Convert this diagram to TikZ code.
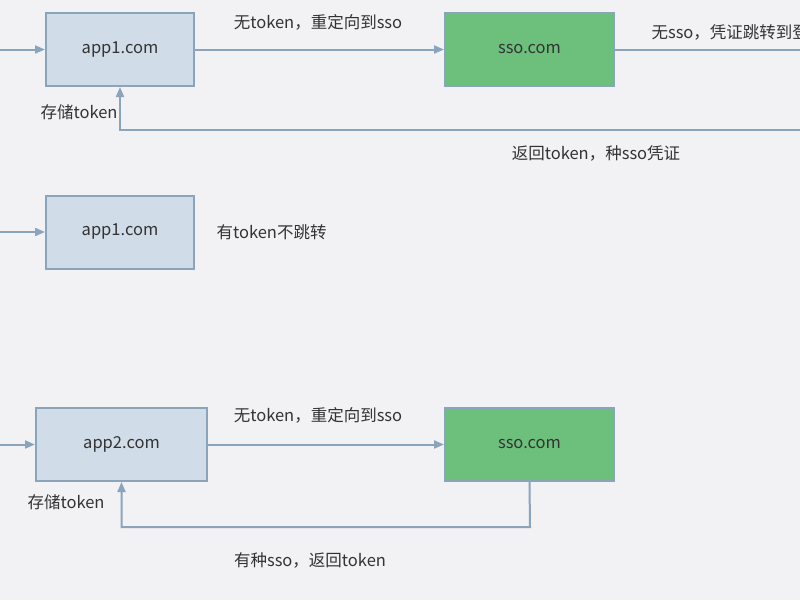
\documentclass[tikz,border=0pt]{standalone}
\usepackage{fontspec}
\setmainfont{Noto Sans CJK SC}
\usetikzlibrary{positioning}
\usetikzlibrary{arrows.meta}
\definecolor{bg}{HTML}{F2F2F4}
\definecolor{appfill}{HTML}{D0DCE8}
\definecolor{ssofill}{HTML}{6DBF7C}
\definecolor{edge}{HTML}{8AA4BC}
\definecolor{txt}{HTML}{333333}
\begin{document}
\begin{tikzpicture}[x=1pt,y=-1pt,
  app/.style={draw=edge, line width=2pt, fill=appfill, minimum height=73pt, text=txt, font=\fontsize{16.5}{18}\selectfont},
  sso/.style={app, fill=ssofill},
  flow/.style={draw=edge, line width=2pt, -{Triangle[length=10pt,width=8pt]}},
  lbl/.style={text=txt, font=\fontsize{16.5}{18}\selectfont}]
 \fill[bg] (0,0) rectangle (800,600);
 \clip (0,0) rectangle (800,600);
 % first request
 \node[app, minimum width=148pt] (appA) at (120,49.5) {app1.com};
 \node[sso, minimum width=169pt] (ssoA) at (529.5,49.5) {sso.com};
 \coordinate (inA) at (0,49.5);
 \coordinate (outA) at (810,49.5);
 \coordinate (backA) at (810,130);
 \draw[flow] (inA) -- (appA);
 \draw[flow] (appA) -- (ssoA);
 \draw[draw=edge, line width=2pt] (ssoA) -- (outA);
 \draw[flow] (backA) -| (appA.south);
 \node[lbl] (hA) at (318,22) {无token，重定向到sso};
 \node[lbl, anchor=west] (tA) at (648,32) {无sso，凭证跳转到登};
 \node[lbl] (sA) at (79,112) {存储token};
 \node[lbl] (rA) at (596,153) {返回token，种sso凭证};
 % second request
 \node[app, minimum width=148pt] (appB) at (120,232) {app1.com};
 \coordinate (inB) at (0,232);
 \draw[flow] (inB) -- (appB);
 \node[lbl, right=18pt of appB] (nB) {有token不跳转};
 % third request
 \node[app, minimum width=171pt] (appC) at (121.5,444.5) {app2.com};
 \node[sso, minimum width=169pt] (ssoC) at (529.5,444.5) {sso.com};
 \coordinate (inC) at (0,444.5);
 \coordinate (turnC) at (530,527);
 \draw[flow] (inC) -- (appC);
 \draw[flow] (appC) -- (ssoC);
 \draw[flow] (ssoC.south) -- (turnC) -| (appC.south);
 \node[lbl] (hC) at (318,415) {无token，重定向到sso};
 \node[lbl] (sC) at (66,502) {存储token};
 \node[lbl] (rC) at (310,560) {有种sso，返回token};
\end{tikzpicture}
\end{document}
